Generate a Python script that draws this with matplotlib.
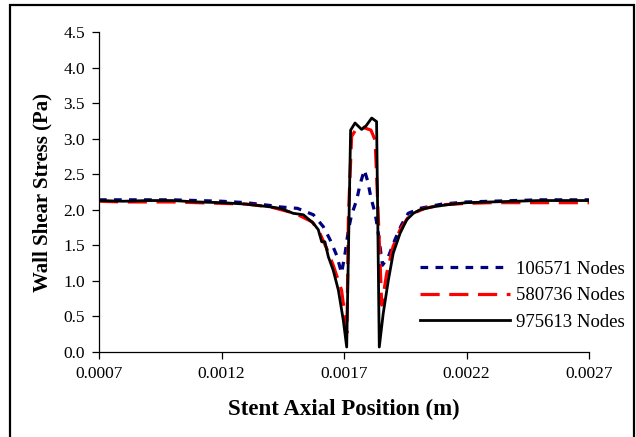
import numpy as np
import matplotlib.pyplot as plt
from matplotlib.patches import Rectangle
from matplotlib.ticker import FormatStrFormatter

# ---- data ----
x_106571 = [0.0007, 0.0008, 0.0009, 0.0010, 0.0011, 0.0012, 0.0013, 0.0014,
            0.00144, 0.00151, 0.001575, 0.001616, 0.001643, 0.00167, 0.00169,
            0.001705, 0.001718, 0.001731, 0.001752, 0.001765, 0.001783,
            0.001797, 0.00181, 0.001827, 0.001838, 0.001857, 0.001881,
            0.001908, 0.001935, 0.001962, 0.00201, 0.0021, 0.0022, 0.0023,
            0.0024, 0.0025, 0.0026, 0.0027]
y_106571 = [2.14, 2.14, 2.14, 2.14, 2.13, 2.12, 2.10, 2.06,
            2.04, 2.02, 1.93, 1.76, 1.58, 1.36, 1.11,
            1.40, 1.72, 1.93, 2.14, 2.35, 2.56,
            2.40, 2.17, 1.95, 1.72, 1.22, 1.34,
            1.58, 1.79, 1.95, 2.02, 2.08, 2.11, 2.12,
            2.13, 2.14, 2.14, 2.14]

x_580736 = [0.0007, 0.0008, 0.0009, 0.0010, 0.0011, 0.0012, 0.0013, 0.0014,
            0.0015, 0.00157, 0.0016, 0.00163, 0.001656, 0.00169, 0.001704,
            0.001712, 0.001718, 0.001731, 0.001752, 0.00177, 0.001785,
            0.00181, 0.001827, 0.00184, 0.001854, 0.001874, 0.0019, 0.001929,
            0.001969, 0.00203, 0.0021, 0.0022, 0.0023, 0.0024, 0.0025,
            0.0026, 0.0027]
y_580736 = [2.12, 2.11, 2.11, 2.11, 2.10, 2.09, 2.08, 2.04,
            1.95, 1.83, 1.68, 1.45, 1.22, 0.87, 0.50,
            0.27, 1.90, 3.03, 3.15, 3.17, 3.15,
            3.12, 2.98, 1.90, 0.66, 1.10, 1.48, 1.72,
            1.93, 2.02, 2.07, 2.09, 2.10, 2.10, 2.10,
            2.10, 2.10]

x_975613 = [0.0007, 0.0008, 0.0009, 0.0010, 0.0011, 0.0012, 0.0013, 0.0014,
            0.001439, 0.001493, 0.001534, 0.001575, 0.001595, 0.001609,
            0.001622, 0.001636, 0.001656, 0.001677, 0.001697, 0.001711,
            0.001727, 0.001745, 0.001772, 0.00179, 0.001813, 0.001833,
            0.001844, 0.00186, 0.001881, 0.001901, 0.001929, 0.001956,
            0.001983, 0.00201, 0.00206, 0.00212, 0.0022, 0.0023, 0.0024,
            0.0025, 0.0026, 0.0027]
y_975613 = [2.13, 2.12, 2.13, 2.13, 2.11, 2.10, 2.08, 2.04,
            2.02, 1.95, 1.93, 1.81, 1.72, 1.55,
            1.55, 1.34, 1.15, 0.87, 0.45, 0.07,
            3.12, 3.22, 3.13, 3.18, 3.29, 3.24,
            0.07, 0.54, 1.01, 1.39, 1.67, 1.86,
            1.95, 2.00, 2.04, 2.07, 2.10, 2.11, 2.12,
            2.13, 2.13, 2.13]

labels = ['106571 Nodes', '580736 Nodes', '975613 Nodes']

plt.rcParams['font.family'] = ['Liberation Serif', 'DejaVu Serif']

fig = plt.figure(figsize=(6.36, 4.37), dpi=100)
ax = fig.add_axes([99/636, 1 - 352/437, 490/636, 320/437])

ax.plot(x_106571, y_106571, color='#000080', lw=2.3, linestyle=(0, (2.4, 2.3)),
        label=labels[0])
ax.plot(x_580736, y_580736, color='#ff0000', lw=2.3, linestyle=(0, (6, 3)),
        label=labels[1])
ax.plot(x_975613, y_975613, color='black', lw=2.0, label=labels[2])

ax.set_xlim(0.0007, 0.0027)
ax.set_ylim(0, 4.5)
ax.set_xticks([0.0007, 0.0012, 0.0017, 0.0022, 0.0027])
ax.set_yticks(np.arange(0, 4.51, 0.5))
ax.xaxis.set_major_formatter(FormatStrFormatter('%.4f'))
ax.yaxis.set_major_formatter(FormatStrFormatter('%.1f'))
ax.tick_params(direction='out', length=5, width=0.9, labelsize=12.5, pad=5)

for s in ['top', 'right']:
    ax.spines[s].set_visible(False)
for s in ['left', 'bottom']:
    ax.spines[s].set_linewidth(0.9)

ax.set_xlabel('Stent Axial Position (m)', fontsize=16.5, fontweight='bold', labelpad=12)
ax.set_ylabel('Wall Shear Stress (Pa)', fontsize=15, fontweight='bold', labelpad=8)

ax.legend(loc='upper left', bbox_to_anchor=(0.655, 0.285), frameon=False,
          fontsize=13.5, handlelength=4.8, handletextpad=0.3, labelspacing=0.5,
          borderpad=0, borderaxespad=0)

# outer frame around the whole figure
fig.patches.append(Rectangle((10/636, -0.1), 624/636, 1.1 - 5/437,
                             transform=fig.transFigure, fill=False,
                             lw=1.6, edgecolor='black'))

fig.savefig('out.png', dpi=100)
